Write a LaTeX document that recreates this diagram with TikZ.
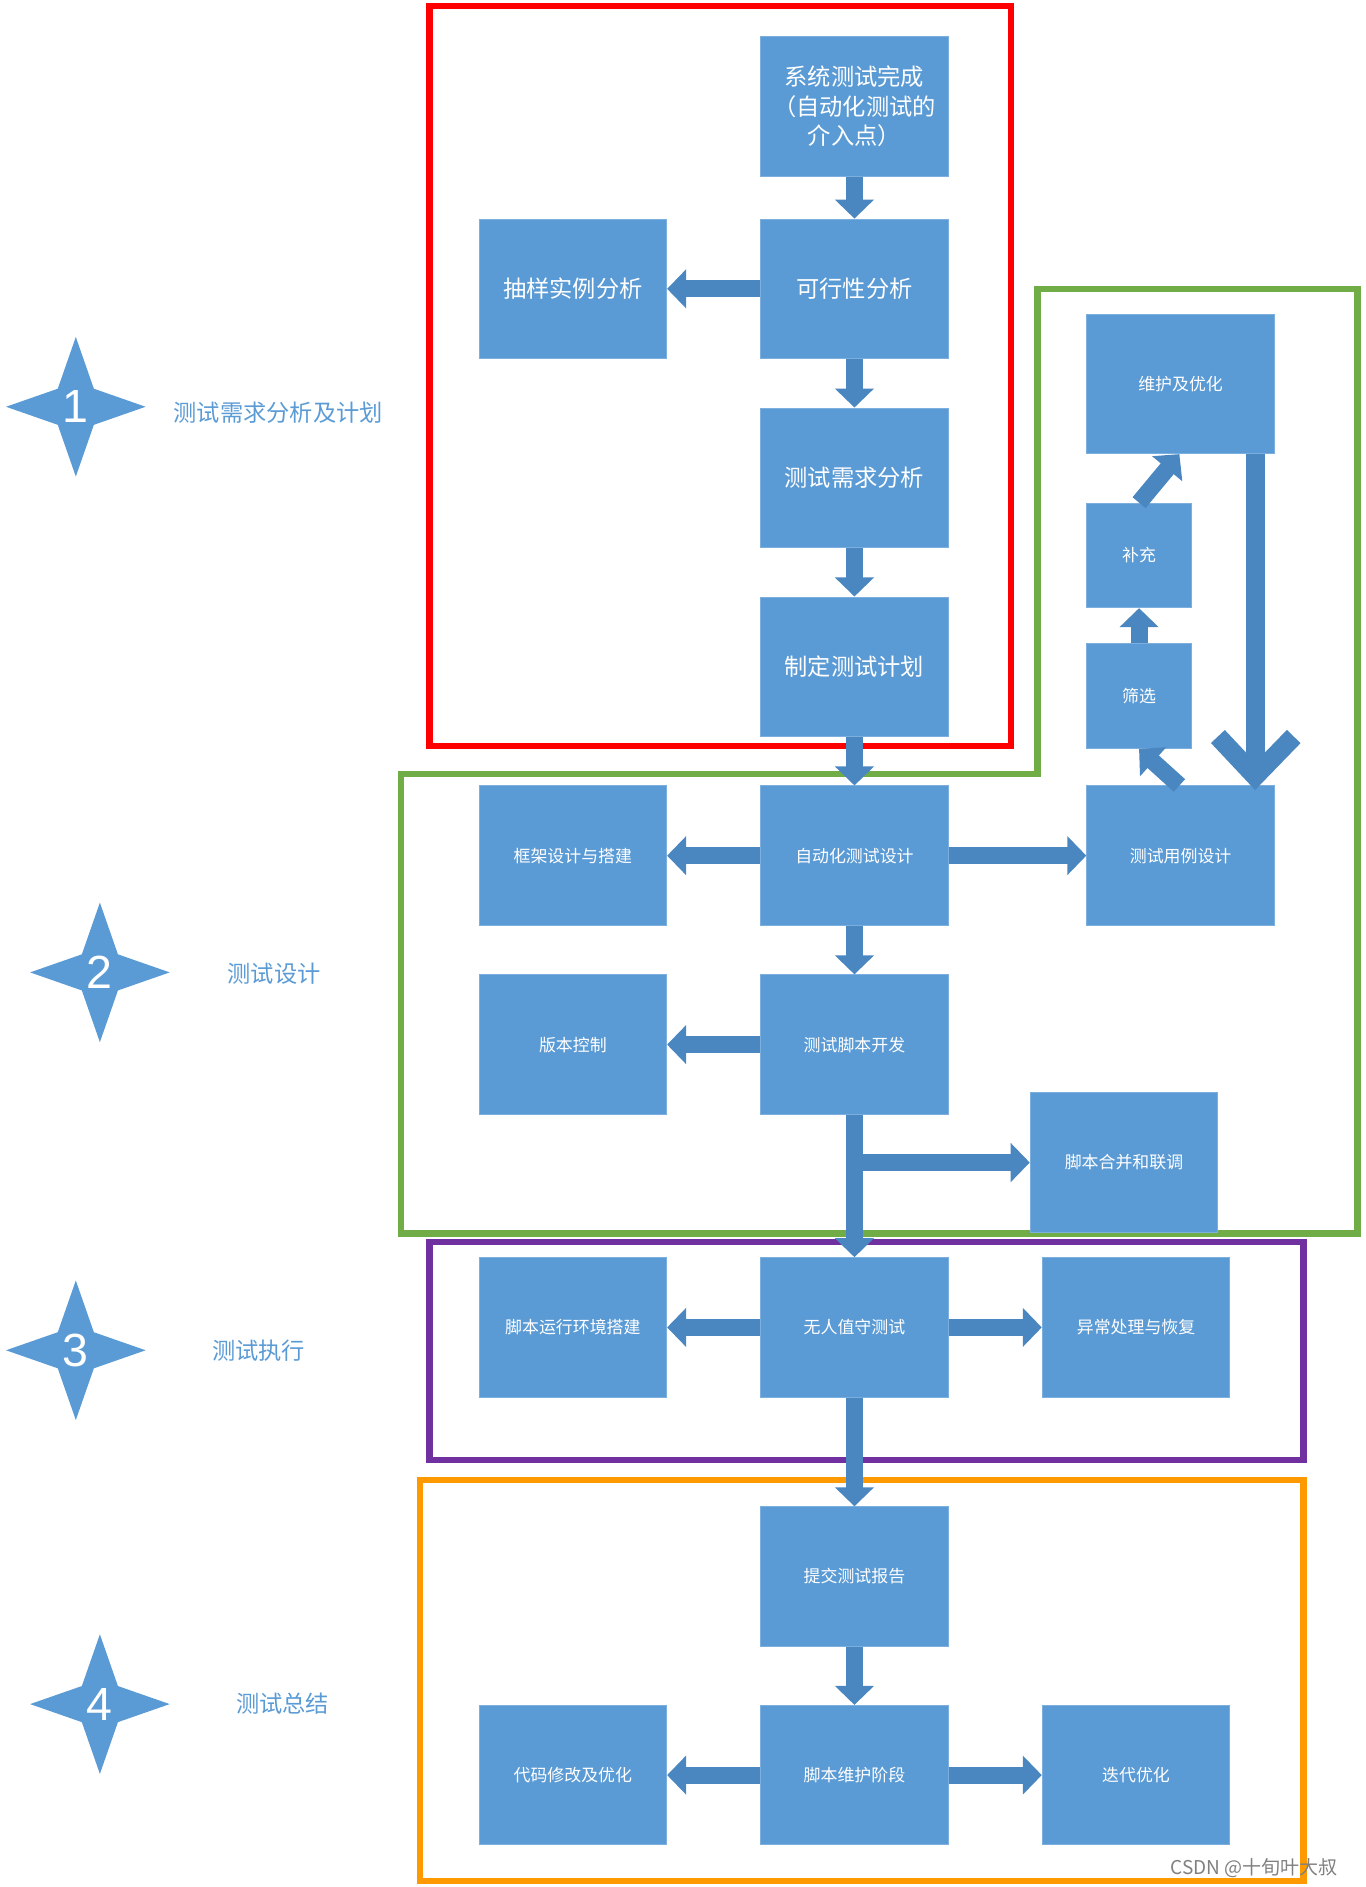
\documentclass[tikz,border=0pt]{standalone}
\usepackage{fontspec}
\setmainfont{Liberation Sans}
\newfontfamily\cjk{Noto Sans CJK SC}
\usetikzlibrary{arrows.meta}
\definecolor{bc}{HTML}{5B9BD5}
\definecolor{ac}{HTML}{4A86C0}
\definecolor{lc}{HTML}{5B9BD5}
\begin{document}
\begin{tikzpicture}[x=0.02cm,y=-0.02cm,
 box/.style={fill=bc,draw=bc!80!white,minimum width=3.12cm,minimum height=2.32cm,text=white,font=\cjk\fontsize{8}{10}\selectfont,align=center,inner sep=1pt},
 bigt/.style={font=\cjk\fontsize{11}{14}\selectfont},
 sbox/.style={box,minimum width=1.74cm,minimum height=1.74cm},
 arr/.style={line width=8pt,draw=ac,-{Triangle[width=18pt,length=9pt]}},
 lab/.style={text=lc,font=\cjk\fontsize{11}{13}\selectfont,anchor=west},
 starc/.style={fill=bc}]
\useasboundingbox (0,0) rectangle (1135,1568);
% frames
\draw[red,line width=3pt] (357,5) rectangle (840,620);
\draw[green!50!black!60!lime,draw={rgb,255:red,112;green,173;blue,71},line width=3pt] (333,643) -- (862,643) -- (862,240) -- (1128,240) -- (1128,1025) -- (333,1025) -- cycle;
\draw[draw={rgb,255:red,112;green,48;blue,160},line width=3pt] (357,1032) rectangle (1083,1213);
\draw[draw={rgb,255:red,255;green,153;blue,0},line width=3pt] (349,1230) rectangle (1083,1563);
% stars
\foreach \cx/\cy/\n in {63/338/1,83/808/2,63/1122/3,83/1416/4}{
 \begin{scope}[shift={(\cx,\cy)}]
 \fill[starc] (0,-58) -- (15,-15) -- (58,0) -- (15,15) -- (0,58) -- (-15,15) -- (-58,0) -- (-15,-15) -- cycle;
 \node[text=white,font=\fontsize{22}{24}\selectfont] at (0,0) {\n};
 \end{scope}}
\node[lab] (l1) at (138,343) {测试需求分析及计划};
\node[lab] (l2) at (183,809) {测试设计};
\node[lab] (l3) at (170,1122) {测试执行};
\node[lab] (l4) at (190,1416) {测试总结};
% boxes
\node[box,bigt] (sys) at (710,88.5) {系统测试完成\\（自动化测试的\\介入点）};
\node[box,bigt] (cy) at (476,240) {抽样实例分析};
\node[box,bigt] (kx) at (710,240) {可行性分析};
\node[box,bigt] (xq) at (710,397) {测试需求分析};
\node[box,bigt] (jh) at (710,554) {制定测试计划};
\node[box] (wh) at (981,319) {维护及优化};
\node[sbox] (bc) at (946.5,461.5) {补充};
\node[sbox] (sx) at (946.5,578.5) {筛选};
\node[box] (kj) at (476,711) {框架设计与搭建};
\node[box] (zd) at (710,711) {自动化测试设计};
\node[box] (yl) at (981,711) {测试用例设计};
\node[box] (bb) at (476,868) {版本控制};
\node[box] (jb) at (710,868) {测试脚本开发};
\node[box] (hb) at (934,966) {脚本合并和联调};
\node[box] (hj) at (476,1103) {脚本运行环境搭建};
\node[box] (wr) at (710,1103) {无人值守测试};
\node[box] (yc) at (944,1103) {异常处理与恢复};
\node[box] (tj) at (710,1310) {提交测试报告};
\node[box] (jd) at (710,1475) {脚本维护阶段};
\node[box] (dm) at (476,1475) {代码修改及优化};
\node[box] (dd) at (944,1475) {迭代优化};
% arrows
\draw[arr] (sys) -- (kx);
\draw[arr] (kx) -- (cy);
\draw[arr] (kx) -- (xq);
\draw[arr] (xq) -- (jh);
\draw[arr] (jh) -- (zd);
\draw[arr] (zd) -- (kj);
\draw[arr] (zd) -- (yl);
\draw[arr] (zd) -- (jb);
\draw[arr] (jb) -- (bb);
\draw[arr] (jb) -- (wr);
\coordinate (br) at (710,966);
\draw[arr] (br) -- (hb);
\draw[arr] (wr) -- (hj);
\draw[arr] (wr) -- (yc);
\draw[arr] (wr) -- (tj);
\draw[arr] (tj) -- (jd);
\draw[arr] (jd) -- (dm);
\draw[arr] (jd) -- (dd);
\draw[arr] (sx) -- (bc);
\draw[arr] (bc.north) -- (wh.south west -| 980,0);
\draw[arr] (yl.north -| 980,0) -- (sx.south);
\coordinate (wa) at (1043,377);
\coordinate (wb) at (1043,648);
\draw[ac,line width=9pt] (wa) -- (wb);
\draw[ac,line width=9pt,line join=miter] (1012,612) -- (1043,645) -- (1075,612);
\node[text=gray,font=\cjk\fontsize{9}{11}\selectfont] (wm) at (1042,1552) {CSDN @十旬叶大叔};
\end{tikzpicture}
\end{document}
